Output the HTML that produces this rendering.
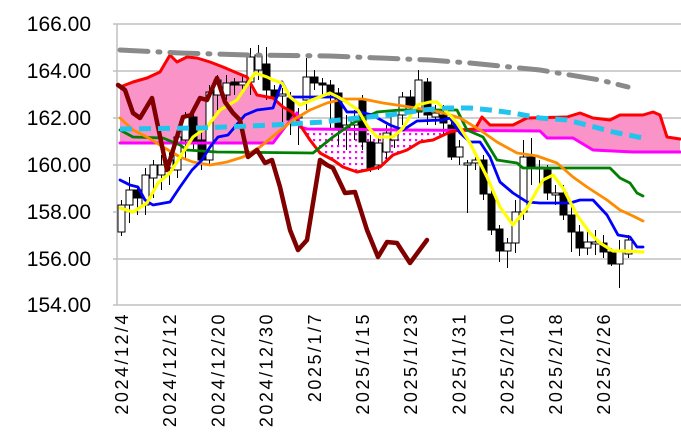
<!DOCTYPE html>
<html><head><meta charset="utf-8"><style>
html,body{margin:0;padding:0;background:#fff;}
svg{display:block;font-family:"Liberation Sans",sans-serif;}
</style></head><body>
<svg id="s" width="681" height="441" viewBox="0 0 681 441" xmlns="http://www.w3.org/2000/svg">
<defs>
<pattern id="dots" width="6" height="6" patternUnits="userSpaceOnUse">
<rect width="6" height="6" fill="#fff"/>
<rect x="1" y="1" width="2.2" height="2.2" fill="#ff00ff"/>
</pattern>
<clipPath id="c1"><rect x="0" y="0" width="301" height="441"/><rect x="455" y="0" width="226" height="441"/></clipPath>
<clipPath id="c2"><rect x="301" y="0" width="154" height="441"/></clipPath>
</defs>
<g stroke="#c0c0c0" stroke-width="1.5">
<line x1="113" y1="24" x2="681" y2="24"/><line x1="113" y1="71" x2="681" y2="71"/>
<line x1="113" y1="118" x2="681" y2="118"/><line x1="113" y1="165" x2="681" y2="165"/>
<line x1="113" y1="212" x2="681" y2="212"/><line x1="113" y1="259" x2="681" y2="259"/>
<line x1="113" y1="305" x2="681" y2="305"/><line x1="117" y1="24" x2="117" y2="305"/>
</g>
<g font-size="21" text-anchor="end" fill="#000">
<text x="91" y="31">166.00</text><text x="91" y="78">164.00</text>
<text x="91" y="125">162.00</text><text x="91" y="172">160.00</text>
<text x="91" y="219">158.00</text><text x="91" y="266">156.00</text>
<text x="91" y="312">154.00</text>
</g>
<g id="xl" font-size="18" text-anchor="end" letter-spacing="2.5" fill="#000"></g>
<g id="cloud"></g>
<g id="candles"></g>
<g id="lines"></g>
<g id="top"></g>
</svg>
<script>
var NS="http://www.w3.org/2000/svg";
function el(p,t,a){var e=document.createElementNS(NS,t);for(var k in a)e.setAttribute(k,a[k]);p.appendChild(e);return e;}
function pts(a){return a.map(function(p){return p[0]+","+p[1]}).join(" ");}
var labs=["2024/12/4","2024/12/12","2024/12/20","2024/12/30","2025/1/7","2025/1/15","2025/1/23","2025/1/31","2025/2/10","2025/2/18","2025/2/26"];
var xl=document.getElementById("xl");
labs.forEach(function(t,i){var x=122+48.2*i+6;var e=el(xl,"text",{transform:"translate("+x+",312) rotate(-90)"});e.textContent=t;});
var red=[[120,87],[133,82],[147,78],[160,72],[170,55],[177,62],[187,57],[197,58],[210,62],[223,67],[237,73],[247,77],[257,95],[273,98],[283,107],[292,112],[300,125],[310,140],[320,153],[333,160],[343,167],[357,172],[367,170],[380,167],[393,155],[407,150],[420,142],[433,140],[450,132],[460,130],[475,129],[482,117],[490,125],[513,125],[527,118],[567,117],[580,113],[593,118],[610,120],[620,115],[643,115],[653,112],[660,115],[667,137],[680,139]];
var mag=[[120,143],[273,143],[285,127],[297,113],[300,127],[307,129],[400,130],[540,131],[547,138],[573,138],[593,150],[633,152],[680,152]];
var cl=document.getElementById("cloud");
var poly=red.concat(mag.slice().reverse());
el(cl,"polygon",{points:pts(poly),fill:"#f993c8","clip-path":"url(#c1)"});
el(cl,"polygon",{points:pts(poly),fill:"url(#dots)","clip-path":"url(#c2)"});
var L=document.getElementById("lines");
function line(p,c,w,extra){var a={points:pts(p),fill:"none",stroke:c,"stroke-width":w,"stroke-linejoin":"round","stroke-linecap":"round"};for(var k in extra)a[k]=extra[k];return el(L,"polyline",a);}
line(mag,"#ff00ff",3);line(red,"#ff0000",3);
line([[120,130],[133,137],[163,138],[180,145],[187,150],[217,152],[313,153],[333,137],[353,123],[377,112],[400,110],[457,110],[467,130],[483,137],[497,160],[517,163],[523,168],[610,168],[620,178],[630,183],[637,193],[643,196]],"#008000",2.8);
line([[120,118],[133,130],[147,137],[163,147],[180,157],[193,162],[210,165],[227,162],[243,157],[260,147],[277,133],[293,120],[310,110],[327,103],[343,99],[363,99],[383,103],[410,107],[440,112],[460,118],[480,130],[497,142],[517,153],[537,156],[557,163],[573,177],[587,187],[607,200],[620,210],[633,216],[643,221]],"#ff8c00",2.8);
line([[120,180],[130,185],[138,187],[145,200],[153,205],[170,202],[180,187],[192,170],[202,160],[210,147],[218,137],[228,135],[245,115],[257,110],[273,108],[282,82],[290,97],[337,97],[347,112],[360,112],[372,115],[390,125],[403,130],[417,121],[443,120],[450,118],[460,133],[470,142],[480,142],[490,157],[500,182],[513,193],[527,202],[540,203],[570,203],[580,200],[593,200],[607,215],[618,235],[630,237],[637,247],[643,247]],"#0000ff",2.8);
line([[120,208],[133,212],[147,203],[158,183],[170,173],[180,157],[193,137],[207,127],[220,110],[237,100],[247,85],[255,73],[267,77],[273,80],[282,83],[290,97],[300,105],[317,98],[330,93],[338,97],[348,103],[358,110],[368,127],[377,137],[385,137],[393,137],[403,128],[417,105],[430,102],[437,102],[447,112],[457,123],[470,143],[487,177],[500,207],[513,225],[527,208],[543,180],[553,175],[563,188],[577,215],[590,233],[600,243],[613,251],[627,251],[643,252]],"#ffff00",3.2);
line([[118,85],[125,90],[133,113],[140,118],[152,98],[167,170],[183,117],[191,115],[200,98],[207,100],[217,78],[225,102],[233,113],[240,120],[248,157],[257,150],[265,163],[272,160],[280,187],[290,230],[298,250],[307,240],[320,160],[327,165],[333,168],[345,193],[355,192],[367,230],[378,257],[387,242],[397,243],[410,263],[427,240]],"#800000",4.5);
var C=[[232,205,200,236],[205,190,177,223],[190,198,186,215],[205,175,168,215],[178,165,160,198],[175,165,155,190],[168,160,150,185],[170,137,130,178],[140,117,112,160],[117,141,110,150],[140,160,130,170],[160,92,85,165],[95,80,75,110],[95,83,75,100],[82,85,78,95],[85,82,75,90],[82,57,48,95],[70,55,45,80],[64,90,47,100],[90,97,85,105],[96,94,88,130],[98,120,92,135],[118,115,108,145],[100,77,58,110],[77,83,70,90],[83,85,78,95],[85,93,80,130],[93,128,88,145],[128,125,115,150],[125,120,110,140],[100,142,95,150],[142,168,135,172],[165,143,138,170],[152,133,125,160],[140,115,110,148],[115,97,92,125],[97,107,90,115],[112,80,70,118],[82,115,78,125],[117,113,105,125],[115,123,105,135],[125,157,115,160],[157,147,140,165],[165,163,160,213],[163,160,155,170],[160,194,155,200],[194,230,185,235],[229,251,225,262],[251,243,238,268],[243,212,200,253],[212,157,140,220],[157,167,138,185],[167,169,160,185],[170,193,165,200],[195,193,185,205],[193,215,185,220],[215,232,205,252],[232,248,225,256],[248,242,228,255],[244,242,230,255],[243,252,235,258],[252,264,248,266],[264,252,240,288],[254,240,235,258]];
var G=document.getElementById("candles");
C.forEach(function(c,i){var x=Math.round(121+8.04*i)+0.5;var o=c[0],cc=c[1];var top=Math.min(o,cc),bot=Math.max(o,cc);if(bot-top<2)bot=top+2;
el(G,"line",{x1:x,y1:c[2],x2:x,y2:c[3],stroke:"#000","stroke-width":1});
el(G,"rect",{x:x-3.5,y:top,width:7,height:bot-top,fill:cc>o?"#000":"#fff",stroke:"#000","stroke-width":1});});
var T=document.getElementById("top");
el(T,"polyline",{points:pts([[120,129],[200,128],[273,125],[323,122],[357,118],[390,115],[423,110],[447,108],[470,108],[490,110],[513,113],[540,118],[567,120],[587,125],[613,132],[643,138]]),fill:"none",stroke:"#22c4ee","stroke-width":5,"stroke-dasharray":"12 7"});
el(T,"polyline",{points:pts([[120,50],[180,53],[250,55],[330,56],[380,58],[430,60],[470,63],[540,70],[600,80],[628,87]]),fill:"none",stroke:"#8a8a8a","stroke-width":5,"stroke-dasharray":"28 10 2 10","stroke-linecap":"round"});
</script>
</body></html>
